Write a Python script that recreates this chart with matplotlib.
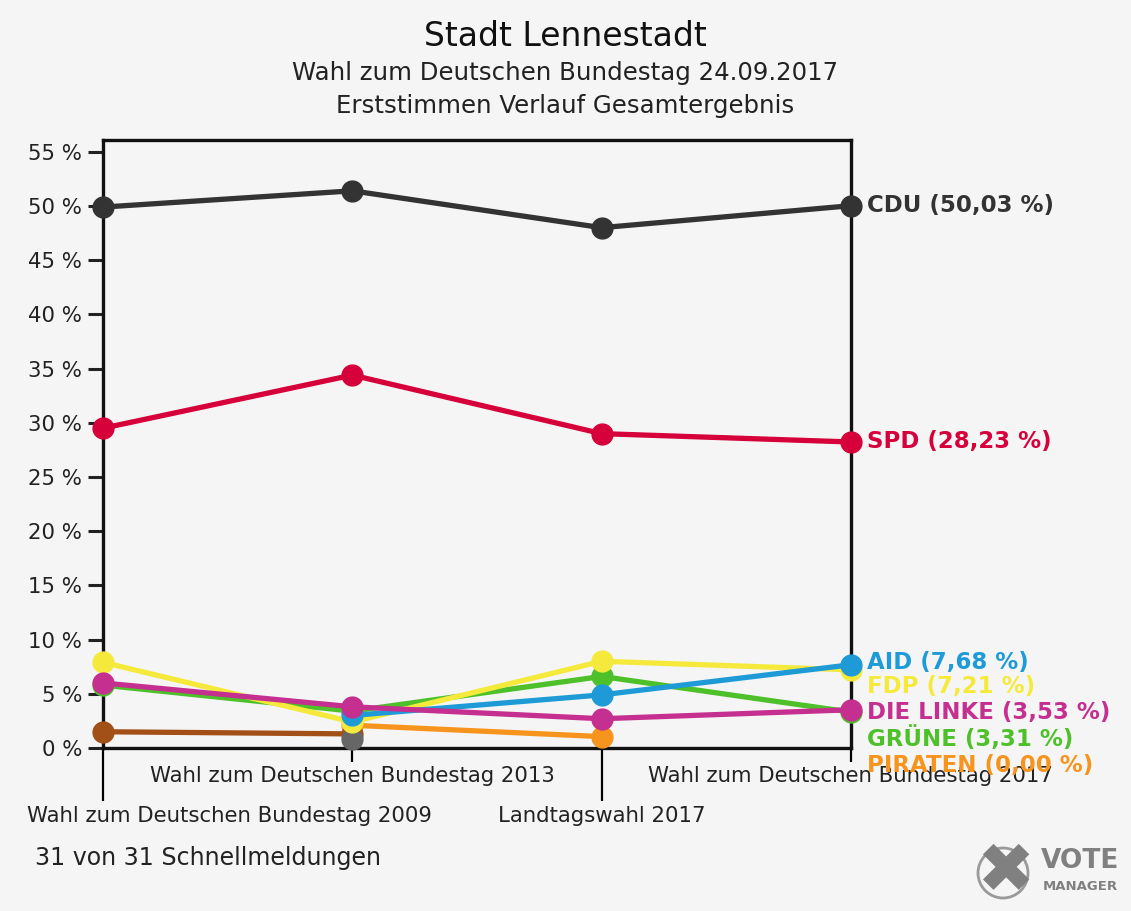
import matplotlib
matplotlib.use("Agg")
import matplotlib.pyplot as plt
import matplotlib.transforms as mtransforms
import numpy as np

plt.rcParams['font.family'] = ['DejaVu Sans']

elections = ["Wahl zum Deutschen Bundestag 2009", "Wahl zum Deutschen Bundestag 2013",
             "Landtagswahl 2017", "Wahl zum Deutschen Bundestag 2017"]
nan = np.nan
cdu = [49.9, 51.4, 48.0, 50.03]
spd = [29.5, 34.4, 29.0, 28.23]
afd = [nan, 3.0, 4.9, 7.68]
fdp = [7.9, 2.4, 8.0, 7.21]
linke = [6.0, 3.8, 2.7, 3.53]
gruene = [5.8, 3.4, 6.6, 3.31]
piraten = [nan, 2.1, 1.05, nan]
sonstige_a = [1.5, 1.3, nan, nan]
sonstige_b = [nan, 0.8, nan, nan]

labels_right = ["CDU (50,03 %)", "SPD (28,23 %)", "AID (7,68 %)", "FDP (7,21 %)",
                "DIE LINKE (3,53 %)", "GRÜNE (3,31 %)", "PIRATEN (0,00 %)"]
label_y = [50.03, 28.23, 7.93, 5.63, 3.32, 0.83, -1.57]

c_cdu = "#333333"
c_spd = "#d6003a"
c_afd = "#1e9bd7"
c_fdp = "#f5ea3c"
c_linke = "#c52f8f"
c_gruene = "#4ec12a"
c_pir = "#f7941d"
c_brown = "#a24f18"
c_gray = "#666666"
label_colors = [c_cdu, c_spd, c_afd, c_fdp, c_linke, c_gruene, c_pir]

W, H = 1131, 911
bg = "#f5f5f5"
fig = plt.figure(figsize=(W/100, H/100), dpi=100, facecolor=bg)
ax = fig.add_axes([103/W, 1-748/H, 748/W, 608/H])
ax.set_facecolor(bg)

x = np.arange(4)
series = [(gruene, c_gruene), (piraten, c_pir), (sonstige_a, c_brown), (sonstige_b, c_gray),
          (fdp, c_fdp), (afd, c_afd), (linke, c_linke), (spd, c_spd), (cdu, c_cdu)]
for i, (vals, col) in enumerate(series):
    ax.plot(x, vals, color=col, lw=3.8, marker='o', ms=15, mec=col, mfc=col,
            clip_on=False, zorder=3 + i * 0.1, solid_capstyle='round')

ax.set_xlim(0, 3)
ax.set_ylim(0, 608/10.84)
yt = np.arange(0, 56, 5)
ax.set_yticks(yt, [f"{v} %" for v in yt])
ax.tick_params(axis='y', length=11, width=2.2, pad=4, labelsize=15.3, colors='#222222')
ax.set_xticks([1, 3], ["", ""])
ax.set_xticks([0, 2], ["", ""], minor=True)
ax.tick_params(axis='x', which='major', length=10, width=1.6)
ax.tick_params(axis='x', which='minor', length=38, width=1.6)
for s in ax.spines.values():
    s.set_linewidth(2.4)
    s.set_color('#111111')

# x category labels (staggered)
tr = mtransforms.blended_transform_factory(ax.transData, fig.transFigure)
ax.text(1, 1-776/H, elections[1], transform=tr, ha='center', va='center', fontsize=15.3,
        color='#222222', clip_on=False)
ax.text(3, 1-776/H, elections[3], transform=tr, ha='center', va='center', fontsize=15.3,
        color='#222222', clip_on=False)
ax.text(2, 1-816/H, elections[2], transform=tr, ha='center', va='center', fontsize=15.3,
        color='#222222', clip_on=False)
fig.text(27/W, 1-816/H, elections[0], ha='left', va='center', fontsize=15.3, color='#222222')

for txt, yv, col in zip(labels_right, label_y, label_colors):
    ax.text(3.063, yv, txt, color=col, fontsize=16.5, fontweight='bold',
            va='center', ha='left', clip_on=False)

fig.text(0.5, 1-37/H, "Stadt Lennestadt", ha='center', va='center', fontsize=23.8, color='#111111')
fig.text(0.5, 1-73/H, "Wahl zum Deutschen Bundestag 24.09.2017", ha='center', va='center',
         fontsize=17.6, color='#222222')
fig.text(0.5, 1-106/H, "Erststimmen Verlauf Gesamtergebnis", ha='center', va='center',
         fontsize=17.6, color='#222222')
fig.text(35/W, 1-858/H, "31 von 31 Schnellmeldungen", ha='left', va='center',
         fontsize=17.1, color='#222222')

# logo
circ = matplotlib.patches.Ellipse((1003/W, 1-873/H), 50/W, 50/H, transform=fig.transFigure,
                                  fill=False, ec='#9a9a9a', lw=2)
fig.patches.append(circ)
fig.text(1005/W, 1-873/H, "✖", ha='center', va='center', fontsize=50, color='#808080')
fig.text(1080/W, 1-861/H, "VOTE", ha='center', va='center', fontsize=19, fontweight='bold',
         color='#808080')
fig.text(1080/W, 1-886/H, "MANAGER", ha='center', va='center', fontsize=9.5, fontweight='bold',
         color='#808080')

fig.savefig("out.png", dpi=100, facecolor=bg)
